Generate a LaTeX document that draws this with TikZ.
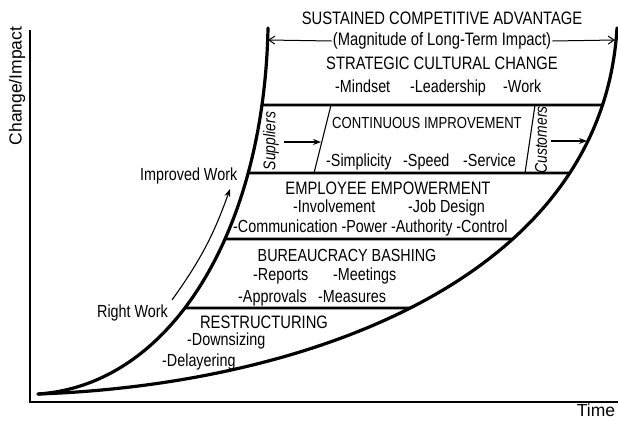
\documentclass[tikz,border=0pt]{standalone}
\usepackage{fontspec}
\setmainfont[FakeStretch=0.82]{Liberation Sans}
\newfontfamily\plainfont{Liberation Sans}
\usetikzlibrary{arrows.meta,intersections}
\begin{document}
\begin{tikzpicture}[x=1pt,y=-1pt,
  curve/.style={line width=3.2pt, line cap=round, line join=round},
  bar/.style={line width=2.6pt},
  thinline/.style={line width=1.1pt},
  lbl/.style={inner sep=0pt, text height=12.5pt, text depth=0pt, font=\fontsize{18}{20}\selectfont},
  sm/.style={inner sep=0pt, text height=12.5pt, text depth=3.5pt, font=\fontsize{17.5}{20}\selectfont, anchor=west},
  side/.style={inner sep=0pt, font=\fontsize{17}{18}\selectfont\itshape, rotate=90},
  axl/.style={inner sep=0pt, font=\plainfont\fontsize{17.5}{20}\selectfont},
  arr/.style={-{Stealth[length=8pt,width=6pt]}, line width=1.1pt},
  toparr/.style={-{Straight Barb[length=6pt,width=8pt]}, line width=1pt},
]
\useasboundingbox (0,0) rectangle (618,421);
% axes
\coordinate (ytop) at (30,30);
\coordinate (orig) at (30,402);
\coordinate (xend) at (618,402);
\draw[thinline] (ytop) -- (orig) -- (xend);
\node[axl, rotate=90] (yl) at (17,86) {Change/Impact};
\node[axl] (xl) at (596,410) {Time};

% curves
\coordinate (start) at (38,394);
\coordinate (ltop) at (268,28);
\coordinate (rtop) at (617,28);
\draw[curve, name path=lc] (start) .. controls (172,385) and (264,230) .. (ltop);
\draw[curve, name path=rc] (start) .. controls (300,385) and (602,282) .. (rtop);

% bars
\path[name path=h1] (0,105) -- (618,105);
\path[name path=h2] (0,173) -- (618,173);
\path[name path=h3] (0,239) -- (618,239);
\path[name path=h4] (0,308) -- (618,308);
\path[name intersections={of=lc and h1, by=b1l}];
\path[name intersections={of=rc and h1, by=b1r}];
\path[name intersections={of=lc and h2, by=b2l}];
\path[name intersections={of=rc and h2, by=b2r}];
\path[name intersections={of=lc and h3, by=b3l}];
\path[name intersections={of=rc and h3, by=b3r}];
\path[name intersections={of=lc and h4, by=b4l}];
\path[name intersections={of=rc and h4, by=b4r}];
\draw[bar] (b1l) -- (b1r);
\draw[bar] (b2l) -- (b2r);
\draw[bar] (b3l) -- (b3r);
\draw[bar] (b4l) -- (b4r);

% top section
\node[lbl] (sca) at (442,18) {SUSTAINED COMPETITIVE ADVANTAGE};
\node[lbl, inner sep=1pt, text depth=3.5pt] (mag) at (442,41) {(Magnitude of Long-Term Impact)};
\coordinate (al) at (268,40);
\coordinate (ar) at (615,40);
\draw[toparr] (mag.west) -- (al);
\draw[toparr] (mag.east) -- (ar);
\node[lbl] (scc) at (442,63) {STRATEGIC CULTURAL CHANGE};
\node[sm] (mind) at (335,88) {-Mindset};
\node[sm] (lead) at (410,88) {-Leadership};
\node[sm] (work) at (503,88) {-Work};

% continuous improvement row
\coordinate (d1t) at (331,105); \coordinate (d1b) at (314,173);
\coordinate (d2t) at (535,105); \coordinate (d2b) at (525,173);
\draw[thinline] (d1t) -- (d1b);
\draw[thinline] (d2t) -- (d2b);
\node[side] (sup) at (271,141) {Suppliers};
\node[side] (cus) at (541,140) {Customers};
\coordinate (sa1) at (284,142); \coordinate (sa2) at (321,142);
\coordinate (ca1) at (551,141); \coordinate (ca2) at (587,141);
\draw[arr] (sa1) -- (sa2);
\draw[arr] (ca1) -- (ca2);
\node[lbl, font=\fontsize{16}{18}\selectfont, text height=11.5pt] (ci) at (427,123) {CONTINUOUS IMPROVEMENT};
\node[sm] (simp) at (326,162) {-Simplicity};
\node[sm] (speed) at (403,162) {-Speed};
\node[sm] (serv) at (463,162) {-Service};

% employee empowerment
\node[lbl] (ee) at (388,188) {EMPLOYEE EMPOWERMENT};
\node[sm] (inv) at (293,208) {-Involvement};
\node[sm] (job) at (408,208) {-Job Design};
\node[sm] (comm) at (233,228) {-Communication -Power -Authority -Control};

% bureaucracy bashing
\node[lbl, font=\fontsize{17.5}{20}\selectfont] (bb) at (347,255) {BUREAUCRACY BASHING};
\node[sm] (rep) at (253,276) {-Reports};
\node[sm] (meet) at (333,276) {-Meetings};
\node[sm] (appr) at (238,298) {-Approvals};
\node[sm] (meas) at (318,298) {-Measures};

% restructuring
\node[lbl] (rs) at (264,322) {RESTRUCTURING};
\node[sm] (down) at (187,341) {-Downsizing};
\node[sm] (dela) at (162,362) {-Delayering};

% left labels
\node[sm] (rw) at (97,313) {Right Work};
\node[sm] (iw) at (140,176) {Improved Work};
\coordinate (wa1) at (172,300);
\coordinate (wa2) at (230,189);
\draw[arr] (wa1) to[bend right=8] (wa2);
\end{tikzpicture}
\end{document}
